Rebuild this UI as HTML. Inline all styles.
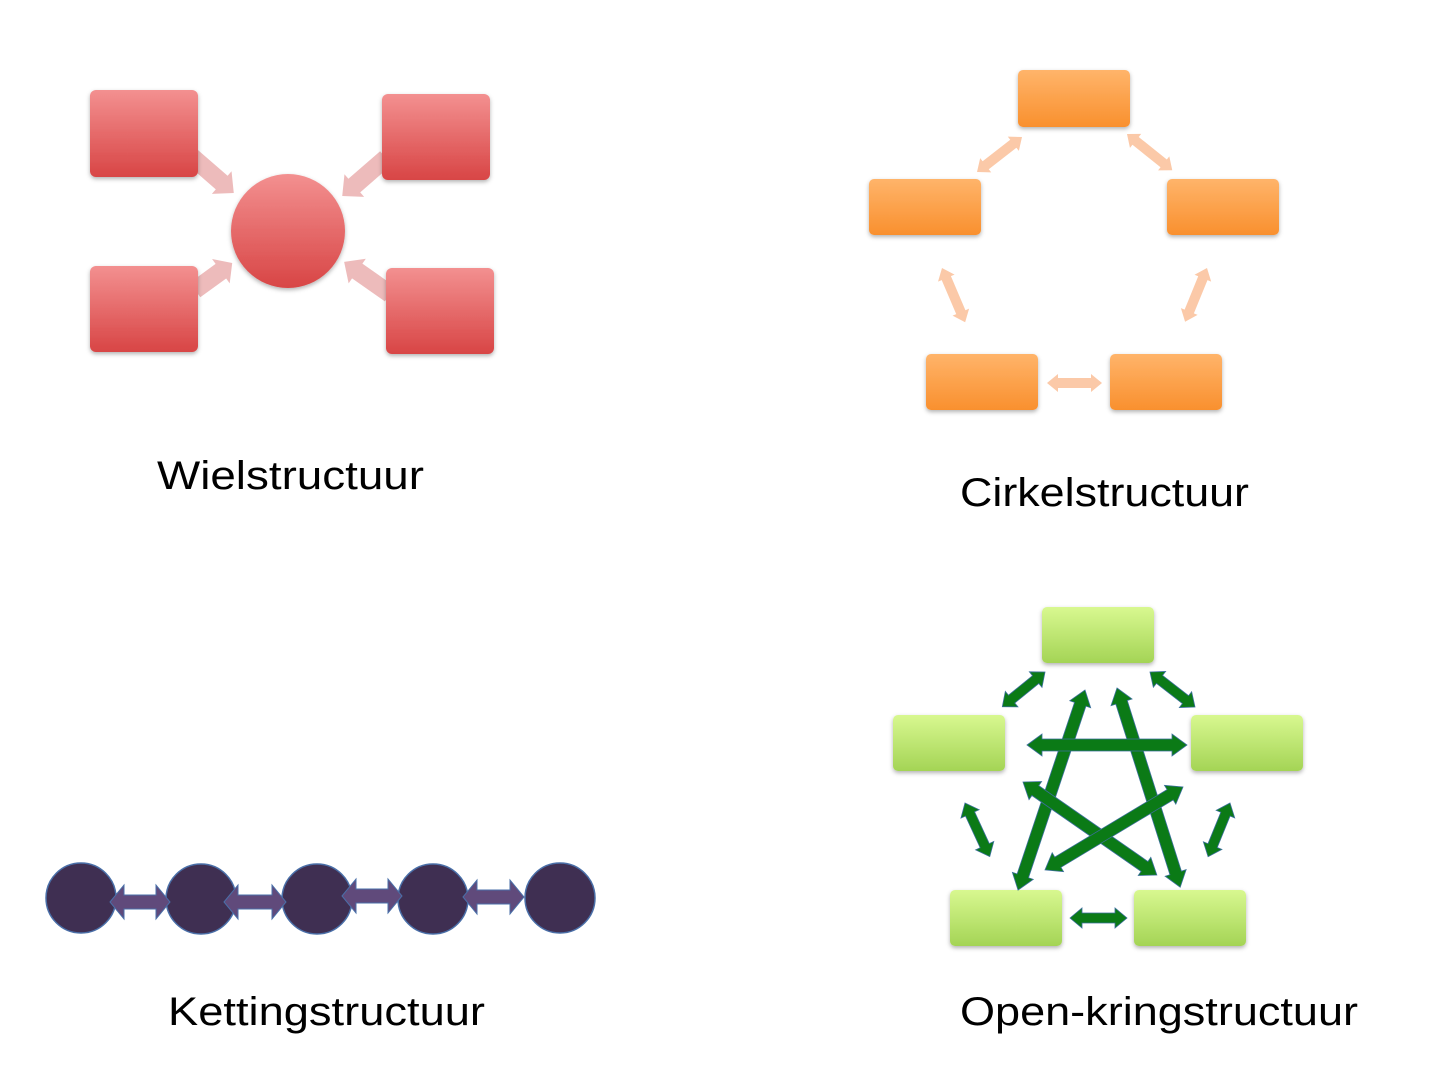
<!DOCTYPE html>
<html><head><meta charset="utf-8"><style>body{margin:0;background:#fff}svg{display:block}</style></head><body>
<svg width="1440" height="1080" viewBox="0 0 1440 1080" xmlns="http://www.w3.org/2000/svg">
<defs>
<linearGradient id="red" x1="0" y1="0" x2="0" y2="1"><stop offset="0" stop-color="#f39090"/><stop offset="1" stop-color="#d84545"/></linearGradient>
<linearGradient id="org" x1="0" y1="0" x2="0" y2="1"><stop offset="0" stop-color="#ffb46a"/><stop offset="1" stop-color="#f9902e"/></linearGradient>
<linearGradient id="grn" x1="0" y1="0" x2="0" y2="1"><stop offset="0" stop-color="#d8f890"/><stop offset="1" stop-color="#a4d455"/></linearGradient>
<filter id="sh" x="-20%" y="-20%" width="140%" height="150%"><feDropShadow dx="0" dy="2" stdDeviation="2" flood-opacity="0.3"/></filter>
</defs>

<!-- Wheel arrows -->
<g fill="#eab0b0" opacity="0.85">
<g transform="translate(190,155) rotate(41)"><polygon points="0,-9 42,-9 42,-15 58,0 42,15 42,9 0,9"/></g>
<g transform="translate(386,158) rotate(139)"><polygon points="0,-9 42,-9 42,-15 58,0 42,15 42,9 0,9"/></g>
<g transform="translate(195,290) rotate(-36)"><polygon points="0,-9 32,-9 32,-15 46,0 32,15 32,9 0,9"/></g>
<g transform="translate(390,294) rotate(-145)"><polygon points="0,-9 40,-9 40,-15 56,0 40,15 40,9 0,9"/></g>
</g>
<g fill="url(#red)" filter="url(#sh)">
<rect x="90" y="90" width="108" height="87" rx="6"/>
<rect x="382" y="94" width="108" height="86" rx="6"/>
<rect x="90" y="266" width="108" height="86" rx="6"/>
<rect x="386" y="268" width="108" height="86" rx="6"/>
<circle cx="288" cy="231" r="57"/>
</g>

<!-- Orange -->
<g fill="#fbc9a8">
<g transform="translate(1022,137) rotate(142.1)"><polygon points="0,0 11,-9 11,-5 46,-5 46,-9 57,0 46,9 46,5 11,5 11,9"/></g>
<g transform="translate(1127,134) rotate(38.7)"><polygon points="0,0 11,-9 11,-5 47,-5 47,-9 58,0 47,9 47,5 11,5 11,9"/></g>
<g transform="translate(942,268) rotate(66.9)"><polygon points="0,0 11,-9 11,-5 48,-5 48,-9 59,0 48,9 48,5 11,5 11,9"/></g>
<g transform="translate(1207,268) rotate(112.2)"><polygon points="0,0 11,-9 11,-5 47,-5 47,-9 58,0 47,9 47,5 11,5 11,9"/></g>
<g transform="translate(1047,383)"><polygon points="0,0 11,-9 11,-5 44,-5 44,-9 55,0 44,9 44,5 11,5 11,9"/></g>
</g>
<g fill="url(#org)" filter="url(#sh)">
<rect x="1018" y="70" width="112" height="57" rx="5"/>
<rect x="869" y="179" width="112" height="56" rx="5"/>
<rect x="1167" y="179" width="112" height="56" rx="5"/>
<rect x="926" y="354" width="112" height="56" rx="5"/>
<rect x="1110" y="354" width="112" height="56" rx="5"/>
</g>

<!-- Green -->
<g fill="url(#grn)" filter="url(#sh)">
<rect x="1042" y="607" width="112" height="56" rx="5"/>
<rect x="893" y="715" width="112" height="56" rx="5"/>
<rect x="1191" y="715" width="112" height="56" rx="5"/>
<rect x="950" y="890" width="112" height="56" rx="5"/>
<rect x="1134" y="890" width="112" height="56" rx="5"/>
</g>
<g fill="#0b7a16" stroke="#3a6f9a" stroke-width="0.8">
<g transform="translate(1045,672) rotate(140.9)"><polygon points="0,0 12,-10 12,-5 43,-5 43,-10 55,0 43,10 43,5 12,5 12,10"/></g>
<g transform="translate(1150,672) rotate(37.9)"><polygon points="0,0 12,-10 12,-5 45,-5 45,-10 57,0 45,10 45,5 12,5 12,10"/></g>
<g transform="translate(965,803) rotate(65.2)"><polygon points="0,0 12,-10 12,-5 47,-5 47,-10 59,0 47,10 47,5 12,5 12,10"/></g>
<g transform="translate(1230,803) rotate(112.2)"><polygon points="0,0 12,-10 12,-5 46,-5 46,-10 58,0 46,10 46,5 12,5 12,10"/></g>
<g transform="translate(1070,918)"><polygon points="0,0 12,-10 12,-5 45,-5 45,-10 57,0 45,10 45,5 12,5 12,10"/></g>
<g transform="translate(1085,690) rotate(108.5)"><polygon points="0,0 15,-11 15,-6 196,-6 196,-11 211,0 196,11 196,6 15,6 15,11"/></g>
<g transform="translate(1117,688) rotate(72.4)"><polygon points="0,0 15,-11 15,-6 194,-6 194,-11 209,0 194,11 194,6 15,6 15,11"/></g>
<g transform="translate(1027,745)"><polygon points="0,0 15,-11 15,-6 145,-6 145,-11 160,0 145,11 145,6 15,6 15,11"/></g>
<g transform="translate(1023,782) rotate(34.8)"><polygon points="0,0 15,-11 15,-6 148,-6 148,-11 163,0 148,11 148,6 15,6 15,11"/></g>
<g transform="translate(1183,787) rotate(149)"><polygon points="0,0 15,-11 15,-6 146,-6 146,-11 161,0 146,11 146,6 15,6 15,11"/></g>
</g>

<!-- Chain -->
<g fill="#3f2f52" stroke="#4a6fa8" stroke-width="1.5">
<circle cx="81" cy="898" r="35"/>
<circle cx="201" cy="899" r="35"/>
<circle cx="317" cy="899" r="35"/>
<circle cx="433" cy="899" r="35"/>
<circle cx="560" cy="898" r="35"/>
</g>
<g fill="#604a7b" stroke="#4a6fa8" stroke-width="1">
<polygon points="110,902 124,885 124,895 156,895 156,885 170,902 156,919 156,909 124,909 124,919"/>
<polygon points="224,902 238,885 238,895 272,895 272,885 286,902 272,919 272,909 238,909 238,919"/>
<polygon points="342,896 356,879 356,889 388,889 388,879 402,896 388,913 388,903 356,903 356,913"/>
<polygon points="463,897 477,880 477,890 510,890 510,880 524,897 510,914 510,904 477,904 477,914"/>
</g>

<g font-family="Liberation Sans, sans-serif" font-size="40" fill="#000">
<text x="157" y="489" textLength="267" lengthAdjust="spacingAndGlyphs">Wielstructuur</text>
<text x="960" y="506" textLength="289" lengthAdjust="spacingAndGlyphs">Cirkelstructuur</text>
<text x="168" y="1025" textLength="317" lengthAdjust="spacingAndGlyphs">Kettingstructuur</text>
<text x="960" y="1025" textLength="398" lengthAdjust="spacingAndGlyphs">Open-kringstructuur</text>
</g>
</svg>
</body></html>
